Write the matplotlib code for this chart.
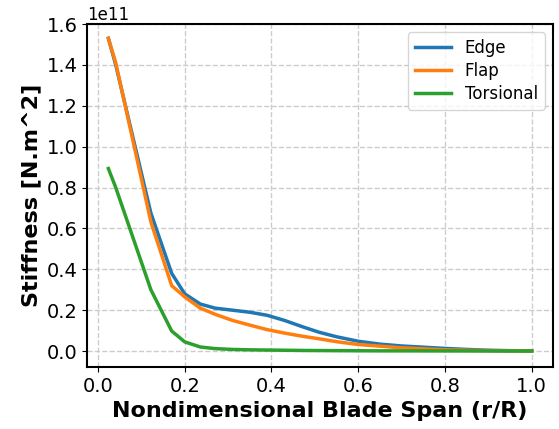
import matplotlib.pyplot as plt
import numpy as np

# Posições ao longo da pá (r/R)
span = [0.024, 0.041, 0.122, 0.17, 0.2, 0.236, 0.27, 0.31, 0.35, 0.39, 0.43,
        0.47, 0.51, 0.55, 0.6, 0.65, 0.7, 0.75, 0.8, 0.85, 0.9, 0.95, 1.0]

# Rigidezes (x 1e11 N.m^2)
edge = [1.53, 1.40, 0.675, 0.38, 0.28, 0.23, 0.21, 0.20, 0.19, 0.175, 0.15,
        0.12, 0.092, 0.07, 0.048, 0.034, 0.025, 0.019, 0.013, 0.008, 0.004, 0.002, 0.001]
flap = [1.53, 1.41, 0.632, 0.32, 0.265, 0.21, 0.18, 0.15, 0.127, 0.105, 0.088,
        0.073, 0.06, 0.046, 0.032, 0.024, 0.016, 0.011, 0.006, 0.004, 0.002, 0.001, 0.0005]
torsion = [0.893, 0.80, 0.30, 0.098, 0.045, 0.02, 0.012, 0.008, 0.006, 0.005, 0.004,
           0.003, 0.0025, 0.002, 0.0015, 0.001, 0.001, 0.0008, 0.0006, 0.0005, 0.0004, 0.0003, 0.0002]

fig = plt.figure(figsize=(5.59, 4.29), dpi=100)
ax = fig.add_axes([0.156, 0.1445, 0.833, 0.7995])

ax.plot(span, np.array(edge) * 1e11, color='#1f77b4', lw=2.5, label='Edge')
ax.plot(span, np.array(flap) * 1e11, color='#ff7f0e', lw=2.5, label='Flap')
ax.plot(span, np.array(torsion) * 1e11, color='#2ca02c', lw=2.5, label='Torsional')

ax.set_ylim(-0.078e11, 1.6e11)
ax.set_yticks(np.arange(0, 1.61e11, 0.2e11))
ax.set_xticks(np.arange(0, 1.01, 0.2))
ax.tick_params(labelsize=14)
ax.yaxis.get_offset_text().set_fontsize(12)
ax.grid(True, linestyle='--', color='#cccccc', lw=1)
ax.set_axisbelow(True)
for s in ax.spines.values():
    s.set_linewidth(1.5)

ax.set_xlabel('Nondimensional Blade Span (r/R)', fontsize=16, fontweight='bold')
ax.set_ylabel('Stiffness [N.m^2]', fontsize=16, fontweight='bold')
ax.legend(fontsize=12, loc='upper right', labelspacing=0.3, handlelength=2.2)

plt.savefig('out.png')
